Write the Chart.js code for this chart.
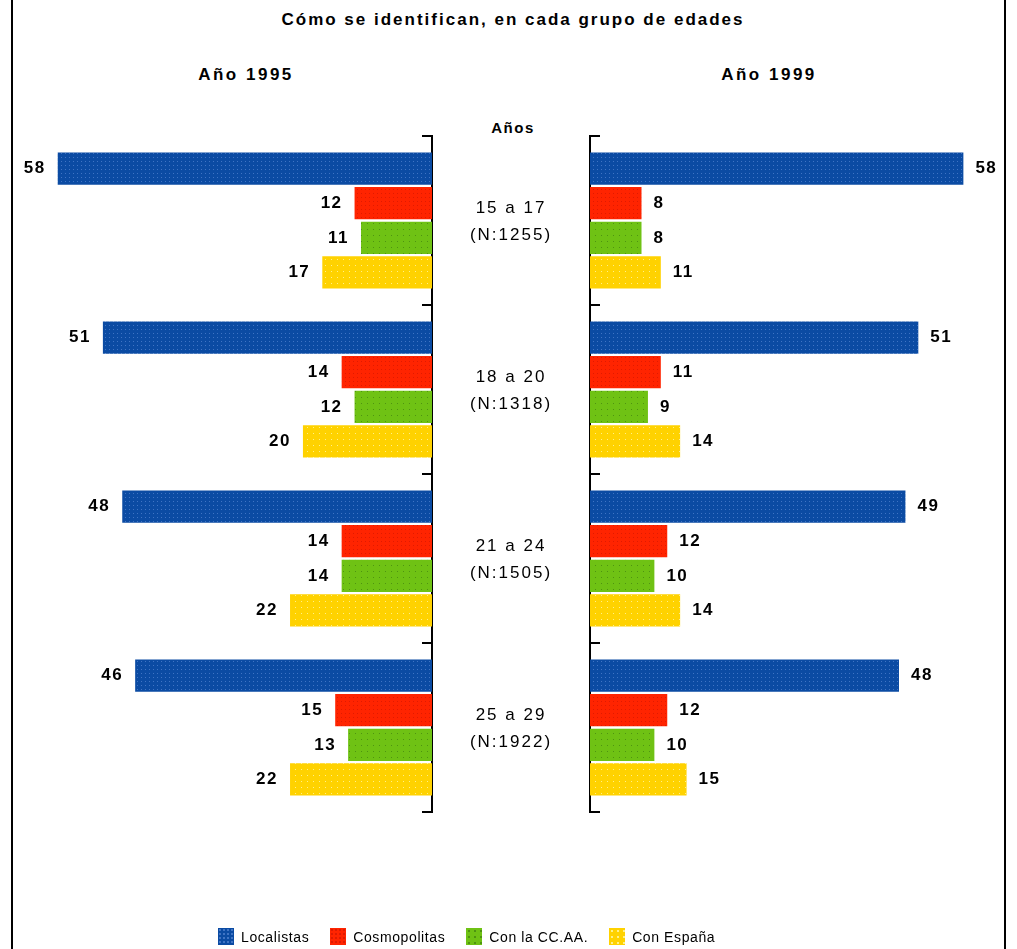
<!DOCTYPE html>
<html>
<head>
<meta charset="utf-8">
<script src="https://cdn.jsdelivr.net/npm/chart.js@4.4.0/dist/chart.umd.min.js"></script>
<style>
  body { margin: 0; background: #fff; }
  #page { position: relative; width: 1017px; height: 949px; overflow: hidden;
          font-family: "Liberation Sans", Arial, sans-serif; color: #000; }
  .frame { position: absolute; top: 0; bottom: 0; width: 2px; background: #000; }
  .txt { position: absolute; white-space: nowrap; transform: translate(-50%, -50%); }
  .bold { font-weight: bold; }
  canvas { position: absolute; top: 0; }
  #legend { position: absolute; left: 218px; top: 928px; display: flex; align-items: center;
            font-size: 14px; letter-spacing: 0.6px; }
  #legend .item { display: flex; align-items: center; margin-right: 21px; }
  #legend .box { width: 16px; height: 17px; margin-right: 7px; }
</style>
</head>
<body>
<div id="page">
  <div class="frame" style="left:11px"></div>
  <div class="frame" style="left:1004px"></div>
  <div class="txt bold" style="left:513px;top:20px;font-size:17px;letter-spacing:2px">Cómo se identifican, en cada grupo de edades</div>
  <div class="txt bold" style="left:246px;top:75px;font-size:17px;letter-spacing:2.5px">Año 1995</div>
  <div class="txt bold" style="left:769px;top:75px;font-size:17px;letter-spacing:2.5px">Año 1999</div>
  <div class="txt bold" style="left:513px;top:127px;font-size:15px;letter-spacing:1.5px">Años</div>
  <canvas id="left" width="440" height="949" style="left:0"></canvas>
  <canvas id="right" width="585" height="949" style="left:432px"></canvas>
  <div id="legend"></div>
</div>
<script>
// categories
const ageGroups = ['15 a 17', '18 a 20', '21 a 24', '25 a 29'];
const sampleSizes = ['(N:1255)', '(N:1318)', '(N:1505)', '(N:1922)'];
const seriesNames = ['Localistas', 'Cosmopolitas', 'Con la CC.AA.', 'Con España'];

// Año 1995
const localistas1995 = [58, 51, 48, 46];
const cosmopolitas1995 = [12, 14, 14, 15];
const ccaa1995 = [11, 12, 14, 13];
const espana1995 = [17, 20, 22, 22];

// Año 1999
const localistas1999 = [58, 51, 49, 48];
const cosmopolitas1999 = [8, 11, 12, 12];
const ccaa1999 = [8, 9, 10, 10];
const espana1999 = [11, 14, 14, 15];

const baseColors = ['#0b4ba3', '#ff2400', '#6fc214', '#ffd200'];
const dotColors = ['#3f74c4', '#e01a00', '#4e9410', '#fff08a'];
const dotStep = [4, 4, 6, 6];

function makePattern(base, dot, step) {
  const c = document.createElement('canvas');
  c.width = step; c.height = step;
  const g = c.getContext('2d');
  g.fillStyle = base;
  g.fillRect(0, 0, step, step);
  g.fillStyle = dot;
  g.fillRect(1, 1, 1, 1);
  return g.createPattern(c, 'repeat');
}
const fills = baseColors.map((b, i) => makePattern(b, dotColors[i], dotStep[i]));

function buildDatasets(series) {
  return series.map((data, i) => ({
    label: seriesNames[i],
    data: data,
    backgroundColor: fills[i],
    borderWidth: 0,
    categoryPercentage: 0.82,
    barPercentage: 0.93
  }));
}

// ticks on the category axis, value labels and centre labels
const decor = {
  id: 'decor',
  afterDatasetsDraw(chart, args, opts) {
    const ctx = chart.ctx;
    const y = chart.scales.y;
    const area = chart.chartArea;
    const isLeft = opts.side === 'left';
    const axisX = isLeft ? area.right : area.left;
    const dir = isLeft ? -1 : 1;
    const n = ageGroups.length;
    const step = (y.bottom - y.top) / n;
    ctx.save();
    ctx.strokeStyle = '#000';
    ctx.lineWidth = 2;
    for (let k = 0; k <= n; k++) {
      const py = Math.round(y.top + k * step);
      ctx.beginPath();
      ctx.moveTo(axisX, py);
      ctx.lineTo(axisX + dir * 10, py);
      ctx.stroke();
    }
    ctx.fillStyle = '#000';
    ctx.textBaseline = 'middle';
    ctx.font = 'bold 17px "Liberation Sans", Arial, sans-serif';
    if ('letterSpacing' in ctx) ctx.letterSpacing = '1.5px';
    ctx.textAlign = isLeft ? 'right' : 'left';
    chart.data.datasets.forEach((ds, di) => {
      chart.getDatasetMeta(di).data.forEach((bar, i) => {
        ctx.fillText(String(ds.data[i]), bar.x + dir * 12, bar.y);
      });
    });
    if (opts.side === 'right') {
      ctx.font = '17px "Liberation Sans", Arial, sans-serif';
      if ('letterSpacing' in ctx) ctx.letterSpacing = '2px';
      ctx.textAlign = 'center';
      const cx = (area.left - chart.scales.y.width) + chart.scales.y.width / 2;
      ageGroups.forEach((g, i) => {
        const cy = y.getPixelForValue(i);
        ctx.fillText(g, cx, cy - 12);
        ctx.fillText(sampleSizes[i], cx, cy + 15);
      });
    }
    ctx.restore();
  }
};

function makeChart(id, series, side) {
  const isLeft = side === 'left';
  return new Chart(document.getElementById(id), {
    type: 'bar',
    data: { labels: ageGroups, datasets: buildDatasets(series) },
    options: {
      responsive: false,
      animation: false,
      indexAxis: 'y',
      layout: {
        padding: isLeft
          ? { left: 19, right: 8, top: 136, bottom: 137 }
          : { left: 0, right: 15, top: 136, bottom: 137 }
      },
      scales: {
        x: { display: false, min: 0, max: 64, reverse: isLeft },
        y: {
          position: isLeft ? 'right' : 'left',
          grid: { display: false, drawTicks: false },
          ticks: { display: false },
          border: { display: true, color: '#000', width: 2 },
          afterFit: s => { s.width = isLeft ? 0 : 158; }
        }
      },
      plugins: {
        legend: { display: false },
        tooltip: { enabled: false },
        decor: { side: side }
      }
    },
    plugins: [decor]
  });
}

makeChart('left', [localistas1995, cosmopolitas1995, ccaa1995, espana1995], 'left');
makeChart('right', [localistas1999, cosmopolitas1999, ccaa1999, espana1999], 'right');

// legend
const legend = document.getElementById('legend');
seriesNames.forEach((name, i) => {
  const item = document.createElement('div');
  item.className = 'item';
  const box = document.createElement('div');
  box.className = 'box';
  box.style.backgroundColor = baseColors[i];
  box.style.backgroundImage = 'radial-gradient(' + dotColors[i] + ' 0.8px, transparent 1px)';
  box.style.backgroundSize = dotStep[i] + 'px ' + dotStep[i] + 'px';
  const label = document.createElement('span');
  label.textContent = name;
  item.appendChild(box);
  item.appendChild(label);
  legend.appendChild(item);
});
</script>
</body>
</html>
